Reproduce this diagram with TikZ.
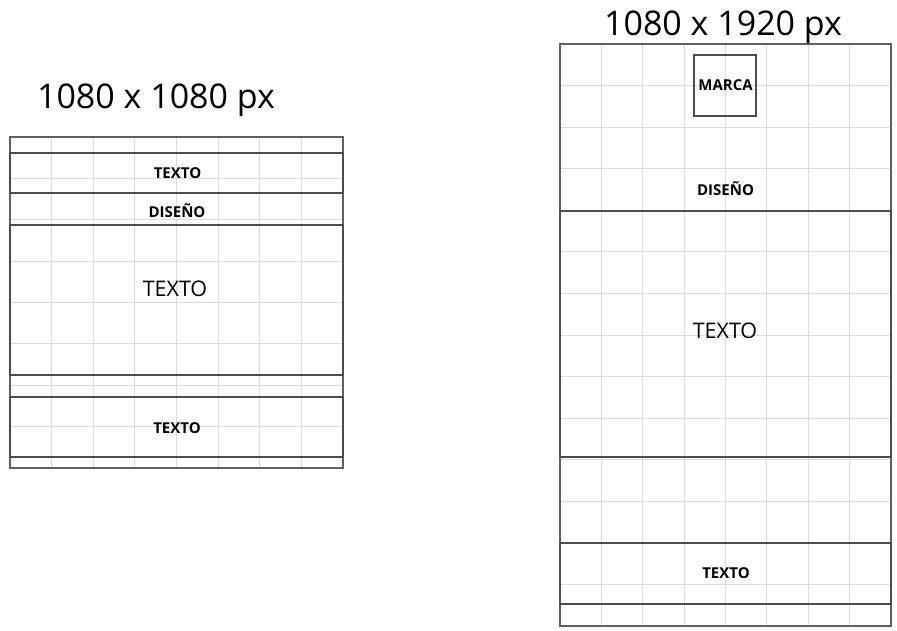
\documentclass[tikz,border=0pt]{standalone}
\usepackage{fontspec}
\setmainfont{Open Sans}

\tikzset{
  gridline/.style={draw=black!14, line width=1pt},
  frame/.style={draw=black!62, line width=1.5pt},
  block/.style={draw=black!70, line width=1.7pt},
  sizetitle/.style={anchor=base, inner sep=0pt, font=\fontsize{34}{34}\selectfont},
  boxtext/.style={anchor=base, inner sep=0pt, font=\fontsize{15}{15}\selectfont\bfseries},
  bigtext/.style={anchor=base, inner sep=0pt, font=\fontsize{21.5}{21.5}\selectfont},
}

\begin{document}
\begin{tikzpicture}[x=1pt,y=-1pt]
\useasboundingbox (0,0) rectangle (897,630);

% 1080 x 1080
\foreach \i in {1,...,7}
  \draw[gridline] ({10+\i*41.625},137) -- ({10+\i*41.625},468);
\foreach \j in {1,...,7}
  \draw[gridline] (10,{137+\j*41.375}) -- (343,{137+\j*41.375});
\draw[frame] (10,137) rectangle (343,468);

\draw[block] (10,153) rectangle (343,193);
\draw[block] (10,225) rectangle (343,375);
\draw[block] (10,397) rectangle (343,457);

\node[sizetitle] (sq) at (156,108.3) {1080 x 1080 px};
\node[boxtext] (sqtop) at (177.5,178) {TEXTO};
\node[boxtext] (sqdis) at (177,217) {DISEÑO};
\node[bigtext] (sqmid) at (175,296.7) {TEXTO};
\node[boxtext] (sqbot) at (177,433) {TEXTO};

% 1080 x 1920
\foreach \i in {1,...,7}
  \draw[gridline] ({560+\i*41.375},44) -- ({560+\i*41.375},626);
\foreach \j in {1,...,13}
  \draw[gridline] (560,{44+\j*41.571}) -- (891,{44+\j*41.571});
\draw[frame] (560,44) rectangle (891,626);

\draw[block] (694,55) rectangle (756,116);
\draw[block] (560,211) rectangle (891,457);
\draw[block] (560,543) rectangle (891,604);

\node[sizetitle] (st) at (723,35) {1080 x 1920 px};
\node[boxtext] (stmarca) at (725.5,90) {MARCA};
\node[boxtext] (stdis) at (725.5,195) {DISEÑO};
\node[bigtext] (stmid) at (725,338) {TEXTO};
\node[boxtext] (stbot) at (726,578) {TEXTO};
\end{tikzpicture}
\end{document}
